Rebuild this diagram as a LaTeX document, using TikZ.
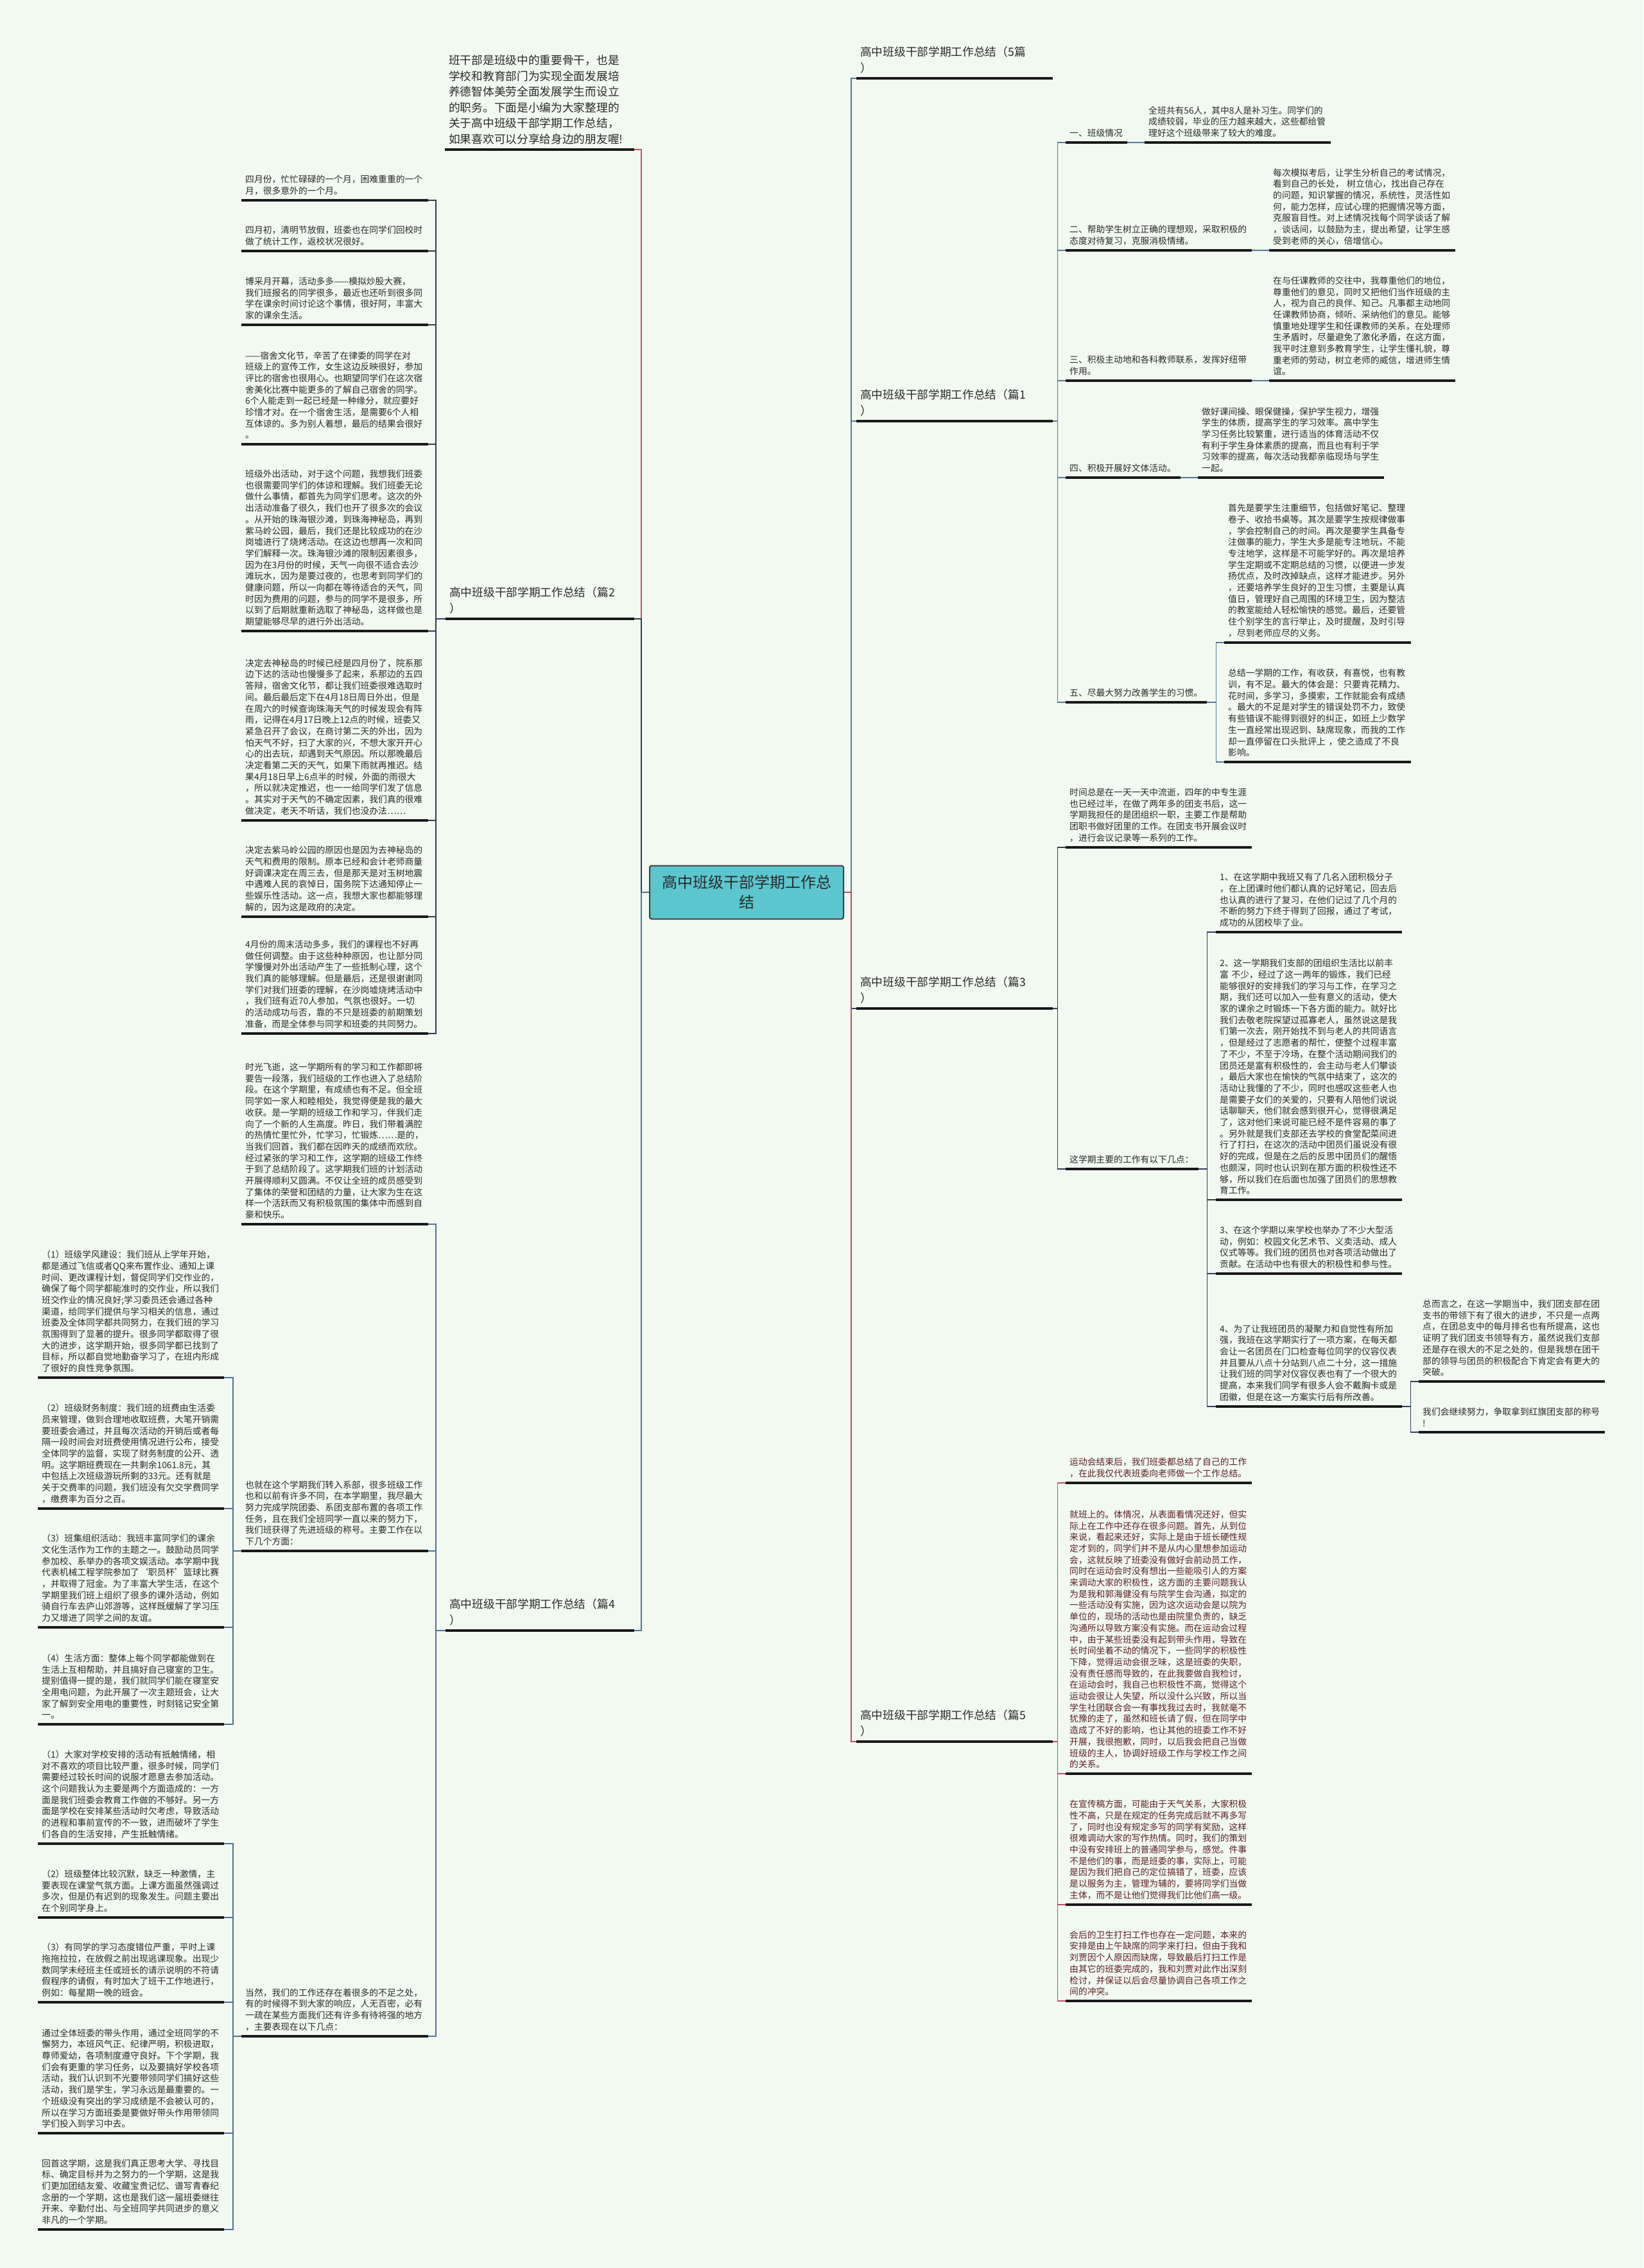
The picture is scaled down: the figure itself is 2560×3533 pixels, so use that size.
\documentclass[tikz,border=0pt]{standalone}
\usepackage{fontspec}
\setmainfont{Noto Sans CJK SC}
\definecolor{bg}{HTML}{F1F9F1}
\definecolor{txt}{HTML}{2A2A2A}
\definecolor{maroon}{HTML}{5E1F22}
\definecolor{cIntro}{HTML}{C8505E}
\definecolor{cTwo}{HTML}{2E3B55}
\definecolor{cFour}{HTML}{4F7196}
\definecolor{cOne}{HTML}{557A99}
\definecolor{cThree}{HTML}{2F3F5C}
\definecolor{cFive}{HTML}{C04A64}
\definecolor{cTop}{HTML}{4F7196}
\definecolor{ctrfill}{HTML}{5CC6CE}
\newcommand\mkblk[6]{%
  \pgfmathsetmacro\tw{#3-#2-12}%
  \node[blk,#5,text width=\tw pt] (#1) at (#2,#4) {#6};
  \draw[ul] (#1.south west) -- (#1.south east);
}
\begin{document}
\begin{tikzpicture}[x=1pt,y=-1pt,
  blk/.style={anchor=south west, inner xsep=6pt, inner ysep=8pt, align=left,
    font=\fontsize{13.8pt}{17.7pt}\selectfont, text=txt},
  big/.style={font=\fontsize{17.7pt}{24.5pt}\selectfont},
  red/.style={text=maroon},
  ul/.style={line width=3.6pt, color=black!90},
  conn/.style={line width=1.8pt},
  ctr/.style={draw=black!75, line width=2pt, fill=ctrfill, rounded corners=3pt,
    minimum width=302pt, minimum height=83pt, align=center, text width=280pt,
    font=\fontsize{24pt}{31pt}\selectfont, text=txt}
]
\path[use as bounding box, fill=bg] (0,0) rectangle (2560,3533);

% ---------- centre ----------
\node[ctr] (ctr) at (1163,1390) {高中班级干部学期工作总\\结};

% ---------- left main branches ----------
\mkblk{intro}{693}{988}{233}{big}{班干部是班级中的重要骨干，也是\\学校和教育部门为实现全面发展培\\养德智体美劳全面发展学生而设立\\的职务。下面是小编为大家整理的\\关于高中班级干部学期工作总结，\\如果喜欢可以分享给身边的朋友喔!}
\mkblk{p2}{694}{988}{964}{big}{高中班级干部学期工作总结（篇2\\）}
\mkblk{p4}{694}{988}{2540}{big}{高中班级干部学期工作总结（篇4\\）}

\draw[conn,cIntro] (ctr.west) -- ++(-12,0) |- (intro.south east);
\draw[conn,cTwo] (ctr.west) -- ++(-12,0) |- (p2.south east);
\draw[conn,cFour] (ctr.west) -- ++(-12,0) |- (p4.south east);

% ---------- 篇2 children ----------
\mkblk{b1}{376}{667}{312}{}{四月份，忙忙碌碌的一个月，困难重重的一个\\月，很多意外的一个月。}
\mkblk{b2}{376}{667}{391}{}{四月初，清明节放假，班委也在同学们回校时\\做了统计工作，返校状况很好。}
\mkblk{b3}{376}{667}{506}{}{博采月开幕，活动多多——模拟炒股大赛，\\我们班报名的同学很多，最近也还听到很多同\\学在课余时间讨论这个事情，很好阿，丰富大\\家的课余生活。}
\mkblk{b4}{376}{667}{692}{}{——宿舍文化节，辛苦了在律委的同学在对\\班级上的宣传工作，女生这边反映很好，参加\\评比的宿舍也很用心。也期望同学们在这次宿\\舍美化比赛中能更多的了解自己宿舍的同学。\\6个人能走到一起已经是一种缘分，就应要好\\珍惜才对。在一个宿舍生活，是需要6个人相\\互体谅的。多为别人着想，最后的结果会很好\\。}
\mkblk{b5}{376}{667}{983}{}{班级外出活动，对于这个问题，我想我们班委\\也很需要同学们的体谅和理解。我们班委无论\\做什么事情，都首先为同学们思考。这次的外\\出活动准备了很久，我们也开了很多次的会议\\。从开始的珠海银沙滩，到珠海神秘岛，再到\\紫马岭公园，最后，我们还是比较成功的在沙\\岗墟进行了烧烤活动。在这边也想再一次和同\\学们解释一次。珠海银沙滩的限制因素很多，\\因为在3月份的时候，天气一向很不适合去沙\\滩玩水，因为是要过夜的，也思考到同学们的\\健康问题，所以一向都在等待适合的天气，同\\时因为费用的问题，参与的同学不是很多，所\\以到了后期就重新选取了神秘岛，这样做也是\\期望能够尽早的进行外出活动。}
\mkblk{b6}{376}{667}{1278}{}{决定去神秘岛的时候已经是四月份了，院系那\\边下达的活动也慢慢多了起来，系那边的五四\\答辩，宿舍文化节，都让我们班委很难选取时\\间。最后最后定下在4月18日周日外出，但是\\在周六的时候查询珠海天气的时候发现会有阵\\雨，记得在4月17日晚上12点的时候，班委又\\紧急召开了会议，在商讨第二天的外出，因为\\怕天气不好，扫了大家的兴，不想大家开开心\\心的出去玩，却遇到天气原因。所以那晚最后\\决定看第二天的天气，如果下雨就再推迟。结\\果4月18日早上6点半的时候，外面的雨很大\\，所以就决定推迟，也一一给同学们发了信息\\。其实对于天气的不确定因素，我们真的很难\\做决定，老天不听话，我们也没办法……}
\mkblk{b7}{376}{667}{1428}{}{决定去紫马岭公园的原因也是因为去神秘岛的\\天气和费用的限制。原本已经和会计老师商量\\好调课决定在周三去，但是那天是对玉树地震\\中遇难人民的哀悼日，国务院下达通知停止一\\些娱乐性活动。这一点，我想大家也都能够理\\解的，因为这是政府的决定。}
\mkblk{b8}{376}{667}{1610}{}{4月份的周末活动多多，我们的课程也不好再\\做任何调整。由于这些种种原因，也让部分同\\学慢慢对外出活动产生了一些抵制心理，这个\\我们真的能够理解。但是最后，还是很谢谢同\\学们对我们班委的理解，在沙岗墟烧烤活动中\\，我们班有近70人参加，气氛也很好。一切\\的活动成功与否，靠的不只是班委的前期策划\\准备，而是全体参与同学和班委的共同努力。}
\foreach \c in {b1,b2,b3,b4,b5,b6,b7,b8}
  \draw[conn,cTwo] (p2.south west) -- ++(-15,0) |- (\c.south east);

% ---------- 篇4 children ----------
\mkblk{c1}{376}{667}{1907}{}{时光飞逝，这一学期所有的学习和工作都即将\\要告一段落，我们班级的工作也进入了总结阶\\段。在这个学期里，有成绩也有不足。但全班\\同学如一家人和睦相处，我觉得便是我的最大\\收获。是一学期的班级工作和学习，伴我们走\\向了一个新的人生高度。昨日，我们带着满腔\\的热情忙里忙外，忙学习，忙锻炼……是的，\\当我们回首，我们都在因昨天的成绩而欢欣。\\经过紧张的学习和工作，这学期的班级工作终\\于到了总结阶段了。这学期我们班的计划活动\\开展得顺利又圆满。不仅让全班的成员感受到\\了集体的荣誉和团结的力量，让大家为生在这\\样一个活跃而又有积极氛围的集体中而感到自\\豪和快乐。}
\mkblk{c2}{376}{667}{2416}{}{也就在这个学期我们转入系部，很多班级工作\\也和以前有许多不同，在本学期里，我尽最大\\努力完成学院团委、系团支部布置的各项工作\\任务，且在我们全班同学一直以来的努力下，\\我们班获得了先进班级的称号。主要工作在以\\下几个方面：}
\mkblk{c3}{376}{667}{3172}{}{当然，我们的工作还存在着很多的不足之处，\\有的时候得不到大家的响应，人无百密，必有\\一疏在某些方面我们还有许多有待将强的地方\\，主要表现在以下几点：}
\foreach \c in {c1,c2,c3}
  \draw[conn,cFour] (p4.south west) -- ++(-15,0) |- (\c.south east);

\mkblk{d1}{59}{349}{2146}{}{（1）班级学风建设：我们班从上学年开始，\\都是通过飞信或者QQ来布置作业、通知上课\\时间、更改课程计划，督促同学们交作业的，\\确保了每个同学都能准时的交作业，所以我们\\班交作业的情况良好;学习委员还会通过各种\\渠道，给同学们提供与学习相关的信息，通过\\班委及全体同学都共同努力，在我们班的学习\\氛围得到了显著的提升。很多同学都取得了很\\大的进步，这学期开始，很多同学都已找到了\\目标，所以都自觉地勤奋学习了，在班内形成\\了很好的良性竞争氛围。}
\mkblk{d2}{59}{349}{2350}{}{（2）班级财务制度：我们班的班费由生活委\\员来管理，做到合理地收取班费，大笔开销需\\要班委会通过，并且每次活动的开销后或者每\\隔一段时间会对班费使用情况进行公布，接受\\全体同学的监督，实现了财务制度的公开、透\\明。这学期班费现在一共剩余1061.8元，其\\中包括上次班级游玩所剩的33元。还有就是\\关于交费率的问题，我们班没有欠交学费同学\\，缴费率为百分之百。}
\mkblk{d3}{59}{349}{2535}{}{（3）班集组织活动：我班丰富同学们的课余\\文化生活作为工作的主题之一。鼓励动员同学\\参加校、系举办的各项文娱活动。本学期中我\\代表机械工程学院参加了‘职员杯’篮球比赛\\，并取得了冠金。为了丰富大学生活，在这个\\学期里我们班上组织了很多的课外活动，例如\\骑自行车去庐山郊游等，这样既缓解了学习压\\力又增进了同学之间的友谊。}
\mkblk{d4}{59}{349}{2686}{}{（4）生活方面：整体上每个同学都能做到在\\生活上互相帮助，并且搞好自己寝室的卫生。\\提别值得一提的是，我们就同学们能在寝室安\\全用电问题，为此开展了一次主题班会，让大\\家了解到安全用电的重要性，时刻铭记安全第\\一。}
\foreach \c in {d1,d2,d3,d4}
  \draw[conn,cFour] (c2.south west) -- ++(-13,0) |- (\c.south east);

\mkblk{e1}{59}{349}{2872}{}{（1）大家对学校安排的活动有抵触情绪，相\\对不喜欢的项目比较严重，很多时候，同学们\\需要经过较长时间的说服才愿意去参加活动。\\这个问题我认为主要是两个方面造成的：一方\\面是我们班委会教育工作做的不够好。另一方\\面是学校在安排某些活动时欠考虑，导致活动\\的进程和事前宣传的不一致，进而破坏了学生\\们各自的生活安排，产生抵触情绪。}
\mkblk{e2}{59}{349}{2987}{}{（2）班级整体比较沉默，缺乏一种激情，主\\要表现在课堂气氛方面。上课方面虽然强调过\\多次，但是仍有迟到的现象发生。问题主要出\\在个别同学身上。}
\mkblk{e3}{59}{349}{3119}{}{（3）有同学的学习态度错位严重，平时上课\\拖拖拉拉，在放假之前出现逃课现象。出现少\\数同学未经班主任或班长的请示说明的不符请\\假程序的请假，有时加大了班干工作地进行，\\例如：每星期一晚的班会。}
\mkblk{e4}{59}{349}{3323}{}{通过全体班委的带头作用，通过全班同学的不\\懈努力，本班风气正、纪律严明，积极进取，\\尊师爱幼，各项制度遵守良好。下个学期，我\\们会有更重的学习任务，以及要搞好学校各项\\活动，我们认识到不光要带领同学们搞好这些\\活动，我们是学生，学习永远是最重要的。一\\个班级没有突出的学习成绩是不会被认可的，\\所以在学习方面班委是要做好带头作用带领同\\学们投入到学习中去。}
\mkblk{e5}{59}{349}{3473}{}{回首这学期，这是我们真正思考大学、寻找目\\标、确定目标并为之努力的一个学期，这是我\\们更加团结友爱、收藏宝贵记忆、谱写青春纪\\念册的一个学期，这也是我们这一届班委继往\\开来、辛勤付出、与全班同学共同进步的意义\\非凡的一个学期。}
\foreach \c in {e1,e2,e3,e4,e5}
  \draw[conn,cFour] (c3.south west) -- ++(-13,0) |- (\c.south east);

% ---------- right main branches ----------
\mkblk{q5}{1334}{1640}{122}{big}{高中班级干部学期工作总结（5篇\\）}
\mkblk{q1}{1334}{1640}{656}{big}{高中班级干部学期工作总结（篇1\\）}
\mkblk{q3}{1334}{1640}{1571}{big}{高中班级干部学期工作总结（篇3\\）}
\mkblk{q6}{1334}{1640}{2713}{big}{高中班级干部学期工作总结（篇5\\）}
\draw[conn,cTop] (ctr.east) -- ++(11,0) |- (q5.south west);
\draw[conn,cOne] (ctr.east) -- ++(11,0) |- (q1.south west);
\draw[conn,cThree] (ctr.east) -- ++(11,0) |- (q3.south west);
\draw[conn,cFive] (ctr.east) -- ++(11,0) |- (q6.south west);

% ---------- 篇1 ----------
\mkblk{f1}{1660}{1756}{222}{}{一、班级情况}
\mkblk{f2}{1660}{1950}{390}{}{二、帮助学生树立正确的理想观，采取积极的\\态度对待复习，克服消极情绪。}
\mkblk{f3}{1660}{1950}{593}{}{三、积极主动地和各科教师联系，发挥好纽带\\作用。}
\mkblk{f4}{1660}{1839}{744}{}{四、积极开展好文体活动。}
\mkblk{f5}{1660}{1880}{1094}{}{五、尽最大努力改善学生的习惯。}
\foreach \c in {f1,f2,f3,f4,f5}
  \draw[conn,cOne] (q1.south east) -- ++(7,0) |- (\c.south west);

\mkblk{g1}{1783}{2073}{222}{}{全班共有56人，其中8人是补习生。同学们的\\成绩较弱，毕业的压力越来越大，这些都给管\\理好这个班级带来了较大的难度。}
\mkblk{g2}{1977}{2267}{390}{}{每次模拟考后，让学生分析自己的考试情况，\\看到自己的长处，~树立信心，找出自己存在\\的问题，知识掌握的情况，系统性，灵活性如\\何，能力怎样，应试心理的把握情况等方面，\\克服盲目性。对上述情况找每个同学谈话了解\\，谈话间，以鼓励为主，提出希望，让学生感\\受到老师的关心，倍增信心。}
\mkblk{g3}{1977}{2267}{593}{}{在与任课教师的交往中，我尊重他们的地位，\\尊重他们的意见，同时又把他们当作班级的主\\人，视为自己的良伴、知己。凡事都主动地同\\任课教师协商，倾听、采纳他们的意见。能够\\慎重地处理学生和任课教师的关系，在处理师\\生矛盾时，尽量避免了激化矛盾，在这方面，\\我平时注意到多教育学生，让学生懂礼貌，尊\\重老师的劳动，树立老师的威信，增进师生情\\谊。}
\mkblk{g4}{1866}{2156}{744}{}{做好课间操、眼保健操，保护学生视力，增强\\学生的体质，提高学生的学习效率。高中学生\\学习任务比较繁重，进行适当的体育活动不仅\\有利于学生身体素质的提高，而且也有利于学\\习效率的提高，每次活动我都亲临现场与学生\\一起。}
\mkblk{g5}{1907}{2198}{1001}{}{首先是要学生注重细节，包括做好笔记、整理\\卷子、收拾书桌等。其次是要学生按规律做事\\，学会控制自己的时间。再次是要学生具备专\\注做事的能力，学生大多是能专注地玩，不能\\专注地学，这样是不可能学好的。再次是培养\\学生定期或不定期总结的习惯，以便进一步发\\扬优点，及时改掉缺点，这样才能进步。另外\\，还要培养学生良好的卫生习惯，主要是认真\\值日，管理好自己周围的环境卫生，因为整洁\\的教室能给人轻松愉快的感觉。最后，还要管\\住个别学生的言行举止，及时提醒，及时引导\\，尽到老师应尽的义务。}
\mkblk{g6}{1907}{2198}{1187}{}{总结一学期的工作，有收获，有喜悦，也有教\\训，有不足。最大的体会是：只要肯花精力、\\花时间，多学习，多摸索，工作就能会有成绩\\。最大的不足是对学生的错误处罚不力，致使\\有些错误不能得到很好的纠正，如班上少数学\\生一直经常出现迟到、缺席现象，而我的工作\\却一直停留在口头批评上~，使之造成了不良\\影响。}
\draw[conn,cOne] (f1.south east) -- (g1.south west);
\draw[conn,cOne] (f2.south east) -- (g2.south west);
\draw[conn,cOne] (f3.south east) -- (g3.south west);
\draw[conn,cOne] (f4.south east) -- (g4.south west);
\draw[conn,cOne] (f5.south east) -- ++(14,0) |- (g5.south west);
\draw[conn,cOne] (f5.south east) -- ++(14,0) |- (g6.south west);

% ---------- 篇3 ----------
\mkblk{h1}{1660}{1950}{1320}{}{时间总是在一天一天中流逝，四年的中专生涯\\也已经过半，在做了两年多的团支书后，这一\\学期我担任的是团组织一职，主要工作是帮助\\团职书做好团里的工作。在团支书开展会议时\\，进行会议记录等一系列的工作。}
\mkblk{h2}{1660}{1867}{1821}{}{这学期主要的工作有以下几点：}
\foreach \c in {h1,h2}
  \draw[conn,cThree] (q3.south east) -- ++(7,0) |- (\c.south west);

\mkblk{i1}{1894}{2184}{1452}{}{1、在这学期中我班又有了几名入团积极分子\\，在上团课时他们都认真的记好笔记，回去后\\也认真的进行了复习，在他们记过了几个月的\\不断的努力下终于得到了回报，通过了考试，\\成功的从团校毕了业。}
\mkblk{i2}{1894}{2184}{1869}{}{2、这一学期我们支部的团组织生活比以前丰\\富~不少，经过了这一两年的锻炼，我们已经\\能够很好的安排我们的学习与工作，在学习之\\期，我们还可以加入一些有意义的活动，使大\\家的课余之时锻炼一下各方面的能力。就好比\\我们去敬老院探望过孤寡老人，虽然说这是我\\们第一次去，刚开始找不到与老人的共同语言\\，但是经过了志愿者的帮忙，使整个过程丰富\\了不少，不至于冷场，在整个活动期间我们的\\团员还是富有积极性的，会主动与老人们攀谈\\，最后大家也在愉快的气氛中结束了，这次的\\活动让我懂的了不少，同时也感叹这些老人也\\是需要子女们的关爱的，只要有人陪他们说说\\话聊聊天，他们就会感到很开心，觉得很满足\\了，这对他们来说可能已经不是件容易的事了\\。另外就是我们支部还去学校的食堂配菜间进\\行了打扫，在这次的活动中团员们虽说没有很\\好的完成，但是在之后的反思中团员们的醒悟\\也颇深，同时也认识到在那方面的积极性还不\\够，所以我们在后面也加强了团员们的思想教\\育工作。}
\mkblk{i3}{1894}{2184}{1984}{}{3、在这个学期以来学校也举办了不少大型活\\动，例如：校园文化艺术节、义卖活动、成人\\仪式等等。我们班的团员也对各项活动做出了\\贡献。在活动中也有很大的积极性和参与性。}
\mkblk{i4}{1894}{2184}{2191}{}{4、为了让我班团员的凝聚力和自觉性有所加\\强，我班在这学期实行了一项方案，在每天都\\会让一名团员在门口检查每位同学的仪容仪表\\并且要从八点十分站到八点二十分，这一措施\\让我们班的同学对仪容仪表也有了一个很大的\\提高，本来我们同学有很多人会不戴胸卡或是\\团徽，但是在这一方案实行后有所改善。}
\foreach \c in {i1,i2,i3,i4}
  \draw[conn,cThree] (h2.south east) -- ++(13,0) |- (\c.south west);

\mkblk{j1}{2210}{2500}{2152}{}{总而言之，在这一学期当中，我们团支部在团\\支书的带领下有了很大的进步，不只是一点两\\点，在团总支中的每月排名也有所提高，这也\\证明了我们团支书领导有方，虽然说我们支部\\还是存在很大的不足之处的，但是我想在团干\\部的领导与团员的积极配合下肯定会有更大的\\突破。}
\mkblk{j2}{2210}{2500}{2231}{}{我们会继续努力，争取拿到红旗团支部的称号\\!}
\foreach \c in {j1,j2}
  \draw[conn,cThree] (i4.south east) -- ++(13,0) |- (\c.south west);

% ---------- 篇5 (bottom) ----------
\mkblk{k1}{1660}{1950}{2310}{red}{运动会结束后，我们班委都总结了自己的工作\\，在此我仅代表班委向老师做一个工作总结。}
\mkblk{k2}{1660}{1950}{2763}{red}{就班上的。体情况，从表面看情况还好，但实\\际上在工作中还存在很多问题。首先，从到位\\来说，看起来还好，实际上是由于班长硬性规\\定才到的，同学们并不是从内心里想参加运动\\会，这就反映了班委没有做好会前动员工作，\\同时在运动会时没有想出一些能吸引人的方案\\来调动大家的积极性，这方面的主要问题我认\\为是我和郭海健没有与院学生会沟通，拟定的\\一些活动没有实施，因为这次运动会是以院为\\单位的，现场的活动也是由院里负责的，缺乏\\沟通所以导致方案没有实施。而在运动会过程\\中，由于某些班委没有起到带头作用，导致在\\长时间坐着不动的情况下，一些同学的积极性\\下降，觉得运动会很乏味，这是班委的失职，\\没有责任感而导致的，在此我要做自我检讨，\\在运动会时，我自己也积极性不高，觉得这个\\运动会很让人失望，所以没什么兴致，所以当\\学生社团联合会一有事找我过去时，我就毫不\\犹豫的走了，虽然和班长请了假，但在同学中\\造成了不好的影响，也让其他的班委工作不好\\开展，我很抱歉，同时，以后我会把自己当做\\班级的主人，协调好班级工作与学校工作之间\\的关系。}
\mkblk{k3}{1660}{1950}{2967}{red}{在宣传稿方面，可能由于天气关系，大家积极\\性不高，只是在规定的任务完成后就不再多写\\了，同时也没有规定多写的同学有奖励，这样\\很难调动大家的写作热情。同时，我们的策划\\中没有安排班上的普通同学参与，感觉。件事\\不是他们的事，而是班委的事，实际上，可能\\是因为我们把自己的定位搞错了，班委，应该\\是以服务为主，管理为辅的，要将同学们当做\\主体，而不是让他们觉得我们比他们高一级。}
\mkblk{k4}{1660}{1950}{3117}{red}{会后的卫生打扫工作也存在一定问题，本来的\\安排是由上午缺席的同学来打扫，但由于我和\\刘贾因个人原因而缺席，导致最后打扫工作是\\由其它的班委完成的，我和刘贾对此作出深刻\\检讨，并保证以后会尽量协调自己各项工作之\\间的冲突。}
\foreach \c in {k1,k2,k3,k4}
  \draw[conn,cFive] (q6.south east) -- ++(7,0) |- (\c.south west);
\end{tikzpicture}
\end{document}
